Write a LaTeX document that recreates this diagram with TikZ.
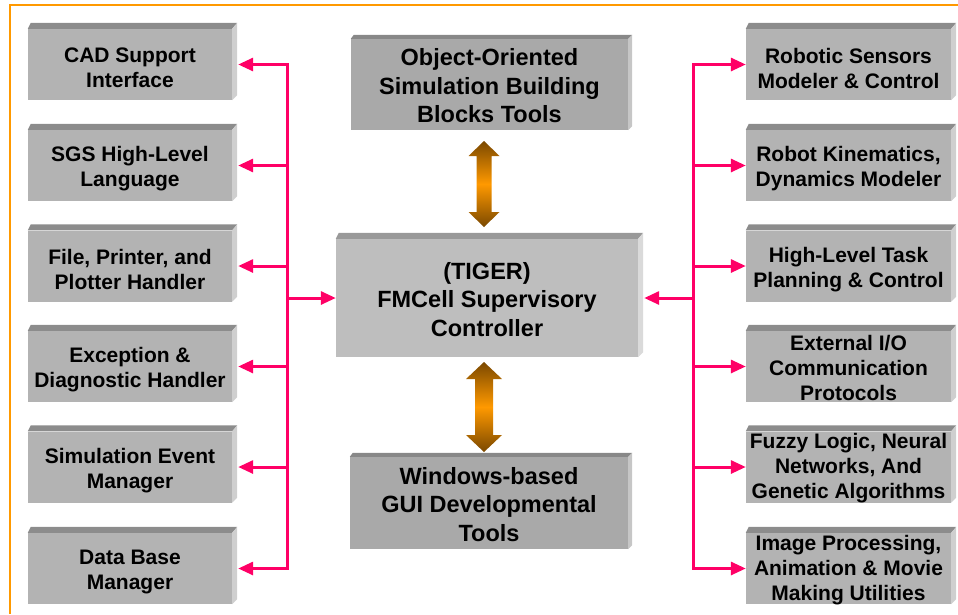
\documentclass[tikz,border=0pt]{standalone}
\usepackage{fontspec}
\setmainfont{Liberation Sans}
\usetikzlibrary{arrows.meta,calc}
\definecolor{pinkc}{HTML}{FF0066}
\definecolor{orangec}{HTML}{FF9900}
\definecolor{brownc}{HTML}{7A4800}
\definecolor{sfront}{HTML}{B3B3B3}
\definecolor{stop}{HTML}{8C8C8C}
\definecolor{sside}{HTML}{CFCFCF}
\definecolor{cfront}{HTML}{BEBEBE}
\definecolor{ctop}{HTML}{999999}
\definecolor{cside}{HTML}{DADADA}
\definecolor{tfront}{HTML}{A9A9A9}
\definecolor{ttop}{HTML}{888888}
\definecolor{tside}{HTML}{C6C6C6}
\newcommand\boxfaces[5]{%
  \fill[#2] (#1.north west) -- ++(3pt,#5) -- ([shift={(#4,#5)}]#1.north east) -- (#1.north east) -- cycle;
  \fill[#3] (#1.north east) -- ++(#4,#5) -- ([shift={(#4,#4)}]#1.south east) -- (#1.south east) -- cycle;}
\newcommand\dblarrow[5]{%
  \shade[top color=brownc,bottom color=brownc,middle color=orangec]
  (#1) -- ($(#1)+(#3,#5)$) -- ($(#1)+(#4,#5)$) -- ($(#2)+(#4,-#5)$) -- ($(#2)+(#3,-#5)$) -- (#2)
  -- ($(#2)+(-#3,-#5)$) -- ($(#2)+(-#4,-#5)$) -- ($(#1)+(-#4,#5)$) -- ($(#1)+(-#3,#5)$) -- cycle;}
\begin{document}
\begin{tikzpicture}[x=1pt,y=-1pt,
  sidebox/.style={fill=sfront,inner sep=0pt,minimum width=204pt,minimum height=71pt},
  txt/.style={font=\bfseries\fontsize{21}{25}\selectfont,align=center,inner sep=0pt},
  bigtxt/.style={font=\bfseries\fontsize{23.5}{28.5}\selectfont,align=center,inner sep=0pt},
  bus/.style={draw=pinkc,line width=3pt},
  parr/.style={bus,-{Triangle[length=15pt,width=13pt]}}]
\useasboundingbox (0,0) rectangle (958,614);
% frame
\draw[orangec,line width=2pt] (10,614) -- (10,5) -- (958,5);
% left boxes
\node[sidebox] (L1) at (130,64.5) {};
\node[sidebox] (L2) at (130,165.5) {};
\node[sidebox] (L3) at (130,266) {};
\node[sidebox] (L4) at (130,366.5) {};
\node[sidebox] (L5) at (130,467) {};
\node[sidebox] (L6) at (130,568.5) {};
% right boxes
\node[sidebox,minimum width=205pt] (R1) at (848.5,64.5) {};
\node[sidebox,minimum width=205pt] (R2) at (848.5,165.5) {};
\node[sidebox,minimum width=205pt] (R3) at (848.5,266) {};
\node[sidebox,minimum width=205pt] (R4) at (848.5,366.5) {};
\node[sidebox,minimum width=205pt] (R5) at (848.5,467) {};
\node[sidebox,minimum width=205pt] (R6) at (848.5,568.5) {};
% center boxes
\node[fill=cfront,inner sep=0pt,minimum width=302pt,minimum height=118pt] (C) at (487,298) {};
\node[fill=tfront,inner sep=0pt,minimum width=277pt,minimum height=91pt] (T) at (489.5,84.5) {};
\node[fill=tfront,inner sep=0pt,minimum width=278pt,minimum height=92pt] (B) at (489,503) {};
\foreach \n in {L1,L2,L3,L4,L5,L6,R1,R2,R3,R4,R5,R6} {\boxfaces{\n}{stop}{sside}{5pt}{6pt}}
\boxfaces{C}{ctop}{cside}{5pt}{6pt}
\boxfaces{T}{ttop}{tside}{4pt}{4pt}
\boxfaces{B}{ttop}{tside}{4pt}{4pt}
% texts
\node[txt] (L1t) at ([yshift=-3.5pt]L1.center) {CAD Support\\Interface};
\node[txt] (L2t) at ([yshift=-3.5pt]L2.center) {SGS High-Level\\Language};
\node[txt] (L3t) at ([yshift=-3.5pt]L3.center) {File, Printer, and\\Plotter Handler};
\node[txt] (L4t) at ([yshift=-3.5pt]L4.center) {Exception \&\\Diagnostic Handler};
\node[txt] (L5t) at ([yshift=-3.5pt]L5.center) {Simulation Event\\Manager};
\node[txt] (L6t) at ([yshift=-3.5pt]L6.center) {Data Base\\Manager};
\node[txt] (R1t) at ([yshift=-3.5pt]R1.center) {Robotic Sensors\\Modeler \& Control};
\node[txt] (R2t) at ([yshift=-3.5pt]R2.center) {Robot Kinematics,\\Dynamics Modeler};
\node[txt] (R3t) at ([yshift=-3.5pt]R3.center) {High-Level Task\\Planning \& Control};
\node[txt] (R4t) at ([yshift=-1.5pt]R4.center) {External I/O\\Communication\\Protocols};
\node[txt] (R5t) at ([yshift=-1.5pt]R5.center) {Fuzzy Logic, Neural\\Networks, And\\Genetic Algorithms};
\node[txt] (R6t) at ([yshift=-1.5pt]R6.center) {Image Processing,\\Animation \& Movie\\Making Utilities};
\node[bigtxt] (Ct) at ([yshift=-1.5pt]C.center) {(TIGER)\\FMCell Supervisory\\Controller};
\node[bigtxt] (Tt) at ([yshift=-1.5pt]T.center) {Object-Oriented\\Simulation Building\\Blocks Tools};
\node[bigtxt] (Bt) at ([yshift=-1.5pt]B.center) {Windows-based\\GUI Developmental\\Tools};
% buses
\coordinate (lbus) at (287,0);
\coordinate (rbus) at (693.5,0);
\draw[bus,line cap=rect] (L1.east -| lbus) -- (L6.east -| lbus);
\draw[bus,line cap=rect] (R1.west -| rbus) -- (R6.west -| rbus);
\foreach \n in {L1,L2,L3,L4,L5,L6} {\draw[parr] (\n.east -| lbus) -- ([xshift=6pt]\n.east);}
\foreach \n in {R1,R2,R3,R4,R5,R6} {\draw[parr] (\n.west -| rbus) -- (\n.west);}
\draw[parr] (C.west -| lbus) -- (C.west);
\draw[parr] (C.east -| rbus) -- ([xshift=6pt]C.east);
% double arrows
\coordinate (a1t) at (484,141);
\coordinate (a1b) at (484,227);
\coordinate (a2t) at (484,362);
\coordinate (a2b) at (484,452);
\dblarrow{a1t}{a1b}{15.5}{7.5}{15}
\dblarrow{a2t}{a2b}{18}{9}{17}
\end{tikzpicture}
\end{document}
